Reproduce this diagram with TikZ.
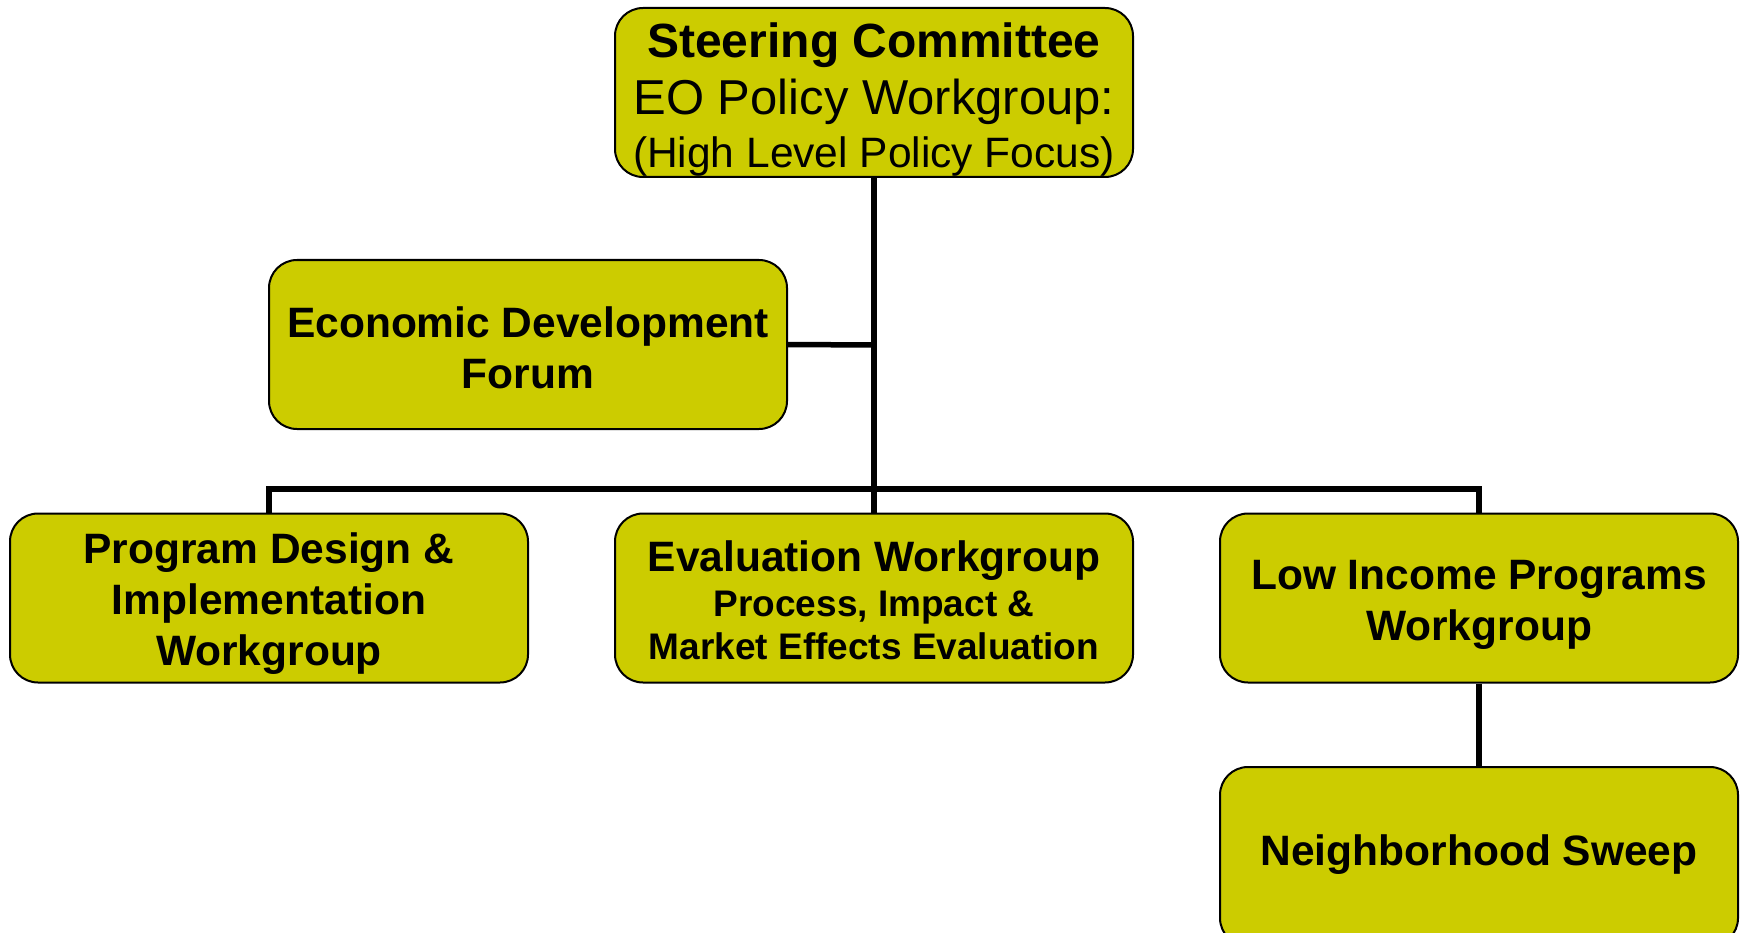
\documentclass[tikz,border=0pt]{standalone}
\usepackage{fontspec}
\setmainfont{Liberation Sans}
\definecolor{boxfill}{RGB}{204,204,0}
\begin{document}
\begin{tikzpicture}[x=1pt,y=-1pt,
  orgbox/.style={draw=black, line width=2pt, fill=boxfill, rounded corners=28pt,
    minimum width=518pt, minimum height=169pt, inner sep=0pt},
  boxtext/.style={inner sep=0pt, align=center,
    font=\fontsize{42.5}{51}\selectfont\bfseries},
  link/.style={line width=5.5pt}]
\useasboundingbox (0,0) rectangle (1744,933);
% boxes
\node[orgbox] (top) at (874,92.5) {};
\node[orgbox] (econ) at (528,344.5) {};
\node[orgbox] (prog) at (269,598) {};
\node[orgbox] (eval) at (874,598) {};
\node[orgbox] (low) at (1479,598) {};
\node[orgbox, minimum height=179pt] (neigh) at (1479,856.5) {};
% texts
\node[boxtext, font=\fontsize{49}{56.5}\selectfont] (topt) at (874,100)
  {{\fontsize{48}{56}\selectfont\bfseries Steering Committee}\\
   EO Policy Workgroup:\\[-3pt]
   {\fontsize{42.5}{50}\selectfont (High Level Policy Focus)}};
\node[boxtext] (econt) at (528,348) {Economic Development\\Forum};
\node[boxtext] (progt) at (269,604) {Program Design \&\\Implementation\\Workgroup};
\node[boxtext, font=\fontsize{37}{43}\selectfont\bfseries] (evalt) at (874,600)
  {{\fontsize{42.5}{45}\selectfont Evaluation Workgroup}\\[2pt]
   Process, Impact \&\\
   Market Effects Evaluation};
\node[boxtext] (lowt) at (1479,605) {Low Income Programs\\Workgroup};
\node[boxtext] (neight) at (1479,855) {Neighborhood Sweep};
% connectors
\coordinate (bus) at (874,489);
\coordinate (econj) at (874,345);
\draw[link] (top.south) -- (eval.north);
\draw[link] (econ.east) -- (econj);
\draw[link] (prog.north) |- (bus) -| (low.north);
\draw[link] (low.south) -- (neigh.north);
\end{tikzpicture}
\end{document}
